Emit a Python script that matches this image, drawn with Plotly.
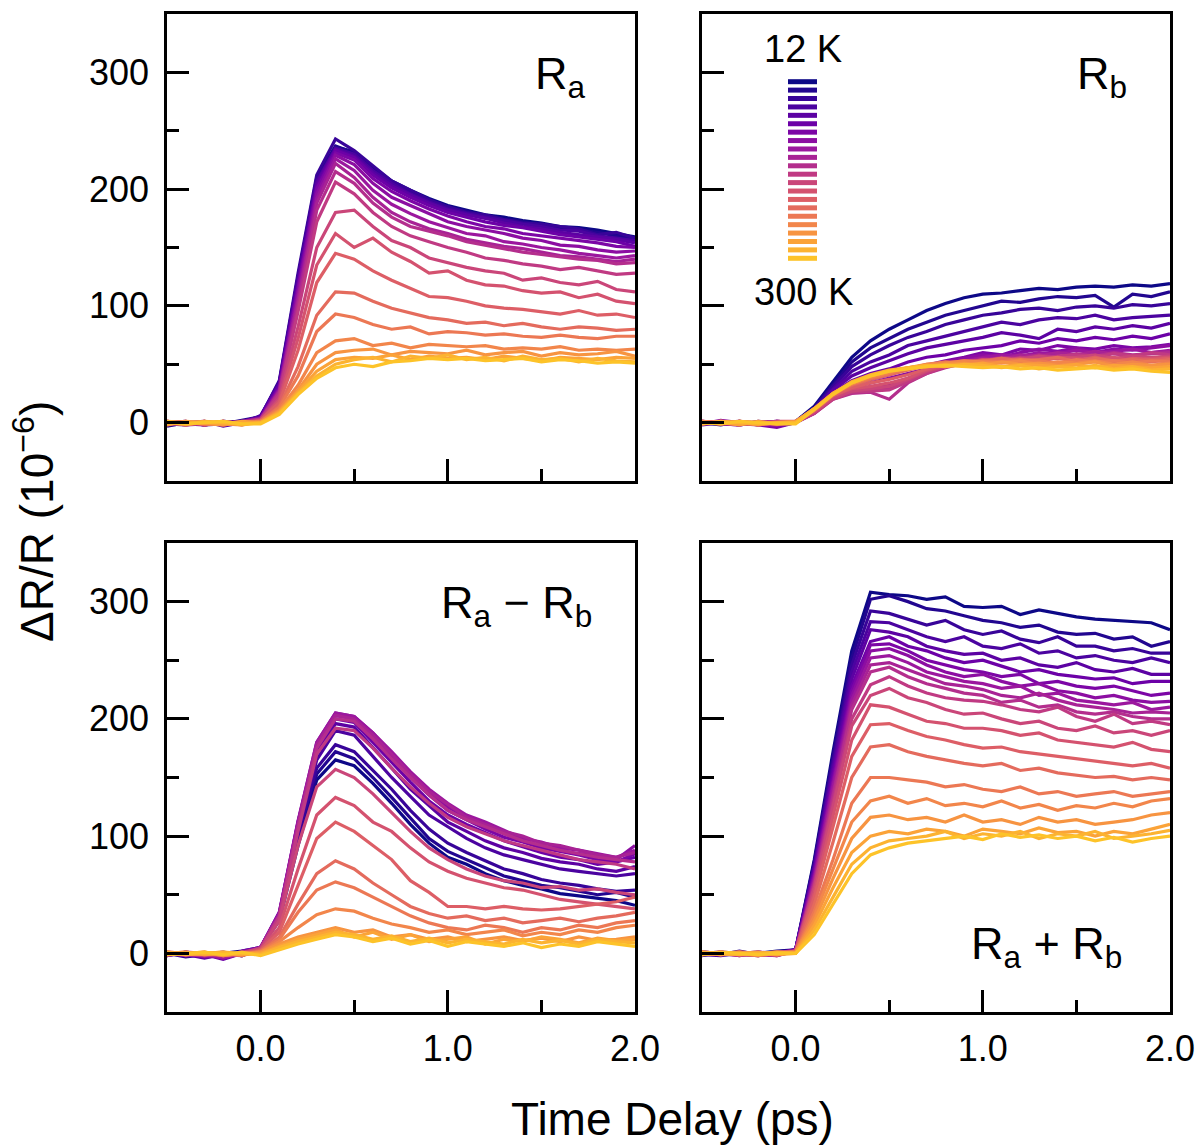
import plotly.graph_objects as go
from plotly.colors import sample_colorscale

# ---------------- data ----------------
time_ps = [-0.5, -0.4, -0.3, -0.2, -0.1, 0.0, 0.1, 0.2, 0.3, 0.4, 0.5, 0.6, 0.7,
           0.8, 0.9, 1.0, 1.1, 1.2, 1.3, 1.4, 1.5, 1.6, 1.7, 1.8, 1.9, 2.0]

temps_K = [12, 25, 40, 55, 70, 85, 100, 115, 130, 145, 160, 175, 190, 205, 220,
           235, 250, 260, 270, 280, 290, 300]

ra_dRR = [
    [-3, 0, -2, 1, 0, 4, 33, 122, 208, 236, 232, 219, 207, 199, 192, 186, 182, 178, 176, 173, 171, 168, 167, 165, 162, 159],
    [-1, -2, 0, -1, 2, 5, 35, 125, 210, 237, 231, 218, 206, 198, 190, 184, 181, 177, 174, 172, 169, 167, 165, 163, 160, 157],
    [0, 1, -2, -1, 1, 5, 36, 128, 212, 243, 233, 220, 207, 199, 191, 185, 180, 178, 174, 171, 170, 168, 166, 161, 163, 158],
    [-2, -1, 1, -3, 0, 6, 34, 124, 207, 235, 230, 216, 205, 196, 189, 183, 179, 176, 173, 170, 168, 165, 164, 160, 158, 156],
    [1, -1, -2, 0, 1, 5, 33, 120, 205, 234, 228, 214, 203, 195, 188, 182, 178, 175, 171, 168, 166, 163, 161, 159, 157, 154],
    [-1, 0, 1, -2, -1, 4, 32, 118, 202, 233, 227, 212, 201, 193, 186, 180, 176, 172, 169, 167, 164, 161, 159, 157, 155, 151],
    [0, -2, -1, 1, 0, 4, 30, 115, 200, 231, 225, 209, 198, 190, 183, 177, 172, 168, 166, 162, 160, 158, 156, 154, 151, 150],
    [-2, 0, -1, -1, 1, 4, 29, 112, 196, 229, 221, 205, 193, 186, 179, 172, 168, 165, 162, 158, 156, 152, 151, 148, 146, 147],
    [1, -1, 0, -2, 0, 3, 28, 108, 192, 226, 216, 199, 187, 179, 172, 167, 162, 160, 155, 153, 150, 148, 145, 143, 141, 143],
    [-1, 0, -2, 1, -1, 3, 27, 105, 188, 222, 210, 193, 180, 172, 166, 162, 157, 154, 151, 149, 146, 143, 142, 140, 138, 140],
    [1, -1, 0, -2, 1, 3, 26, 100, 182, 215, 205, 188, 176, 168, 164, 160, 155, 152, 149, 146, 144, 142, 140, 139, 136, 137],
    [-1, 1, -2, 0, -1, 3, 24, 95, 172, 206, 196, 180, 168, 160, 155, 150, 146, 141, 139, 136, 134, 131, 133, 130, 127, 128],
    [0, -2, 1, -1, 0, 2, 21, 82, 150, 180, 182, 168, 156, 150, 141, 137, 133, 130, 128, 122, 124, 120, 118, 121, 114, 112],
    [-1, 0, -1, 1, -2, 2, 19, 72, 135, 162, 150, 158, 146, 138, 128, 130, 122, 118, 117, 113, 111, 112, 107, 110, 104, 102],
    [0, 1, -2, 0, -1, 2, 17, 62, 120, 145, 140, 130, 122, 115, 108, 107, 104, 100, 98, 97, 95, 93, 96, 92, 93, 90],
    [1, -1, 0, -2, 0, 1, 14, 48, 92, 112, 111, 104, 98, 94, 90, 88, 85, 86, 83, 85, 82, 80, 82, 81, 79, 80],
    [-1, 0, 1, -1, -2, 1, 13, 40, 78, 93, 90, 84, 80, 82, 76, 78, 77, 75, 76, 74, 73, 75, 73, 72, 74, 74],
    [0, -2, 0, 1, -1, 1, 11, 32, 60, 70, 72, 66, 68, 64, 67, 66, 65, 66, 63, 64, 63, 65, 62, 63, 62, 63],
    [1, 0, -1, -2, 0, 0, 10, 28, 50, 60, 62, 63, 58, 61, 60, 59, 62, 58, 60, 61, 57, 60, 58, 59, 61, 57],
    [-2, 1, 0, -1, 1, 0, 9, 26, 44, 54, 56, 55, 58, 54, 57, 55, 56, 54, 57, 55, 53, 56, 55, 54, 56, 55],
    [0, -1, 1, 0, -2, 0, 8, 25, 40, 50, 54, 56, 52, 57, 55, 58, 54, 56, 53, 57, 54, 55, 52, 55, 53, 52],
    [1, -1, 0, 1, -1, -1, 7, 24, 38, 47, 50, 48, 52, 53, 55, 54, 55, 53, 54, 55, 52, 54, 53, 51, 52, 51],
]

rb_dRR = [
    [0, -2, 1, -1, 0, 1, 14, 35, 56, 70, 80, 88, 96, 102, 107, 110, 111, 113, 115, 114, 116, 117, 116, 118, 117, 119],
    [-1, 0, -2, 1, 0, 1, 13, 33, 52, 64, 72, 80, 86, 92, 96, 100, 104, 103, 106, 108, 107, 109, 99, 110, 108, 112],
    [1, -1, 0, -2, 1, 0, 12, 31, 48, 58, 66, 73, 78, 84, 88, 92, 94, 97, 98, 96, 99, 100, 98, 101, 100, 102],
    [0, 1, -1, 0, -3, 0, 12, 29, 44, 52, 58, 66, 70, 74, 78, 82, 86, 84, 88, 90, 89, 92, 88, 90, 91, 92],
    [-2, 0, 1, -1, 0, 0, 11, 28, 40, 47, 53, 59, 64, 67, 70, 73, 77, 75, 72, 80, 78, 82, 80, 83, 81, 85],
    [1, -1, -2, 0, 1, 0, 10, 26, 36, 42, 46, 52, 56, 58, 62, 64, 66, 70, 68, 72, 70, 73, 71, 74, 72, 76],
    [0, -1, 1, -2, -4, 0, 10, 24, 33, 37, 41, 46, 49, 53, 56, 60, 58, 63, 62, 66, 64, 63, 66, 64, 65, 67],
    [-1, 2, 0, -1, 0, 1, 9, 23, 30, 34, 38, 42, 46, 52, 55, 58, 56, 60, 63, 61, 64, 60, 63, 62, 64, 66],
    [0, -1, -2, 0, 1, 0, 9, 22, 28, 30, 33, 38, 44, 50, 53, 56, 58, 57, 60, 59, 62, 60, 61, 63, 60, 62],
    [1, 0, -1, -2, 0, 0, 8, 21, 27, 28, 30, 36, 43, 48, 52, 55, 54, 58, 57, 60, 58, 61, 59, 57, 60, 61],
    [-1, 1, 0, -1, -2, 0, 8, 20, 25, 26, 20, 34, 42, 47, 51, 53, 56, 55, 58, 56, 59, 57, 60, 58, 59, 60],
    [0, -1, 1, 0, -1, 1, 8, 20, 26, 27, 28, 35, 42, 48, 50, 54, 52, 56, 55, 57, 58, 56, 59, 57, 60, 58],
    [1, 0, -2, 1, 0, 1, 9, 21, 27, 29, 31, 37, 44, 48, 52, 53, 55, 54, 57, 55, 56, 58, 55, 57, 56, 57],
    [-1, 1, 0, -1, 1, 1, 10, 23, 29, 31, 34, 38, 45, 49, 51, 54, 53, 55, 52, 56, 55, 54, 56, 53, 55, 56],
    [0, -1, 1, -2, 0, 1, 10, 23, 30, 34, 37, 41, 46, 50, 52, 53, 55, 52, 54, 55, 53, 56, 52, 55, 54, 55],
    [1, 0, -1, 0, -1, 1, 11, 24, 32, 37, 41, 45, 49, 51, 53, 52, 55, 53, 54, 56, 52, 55, 53, 54, 52, 54],
    [0, 1, -1, -1, 0, 1, 11, 24, 33, 38, 42, 46, 50, 52, 51, 53, 52, 54, 53, 51, 54, 52, 53, 51, 53, 52],
    [-1, 0, 1, 0, -1, 1, 12, 25, 33, 39, 43, 47, 50, 51, 53, 52, 51, 53, 50, 52, 51, 53, 50, 52, 49, 51],
    [1, -1, 0, -2, 0, 1, 12, 25, 34, 40, 44, 47, 49, 50, 51, 49, 52, 50, 51, 49, 50, 52, 48, 50, 49, 50],
    [0, 0, -2, 1, -1, 0, 12, 25, 34, 40, 44, 47, 48, 50, 49, 51, 48, 50, 49, 48, 50, 47, 49, 48, 47, 48],
    [-1, 1, 0, -1, 0, 0, 12, 25, 35, 41, 45, 47, 49, 48, 50, 49, 47, 49, 46, 48, 47, 49, 46, 48, 45, 46],
    [0, -1, 1, 0, -1, -1, 11, 24, 34, 40, 44, 46, 48, 49, 48, 47, 48, 46, 47, 45, 46, 47, 45, 46, 44, 43],
]

ra_minus_rb_dRR = [
    [-2, 1, -3, 0, 2, 5, 28, 92, 148, 165, 160, 145, 128, 110, 94, 82, 76, 68, 62, 58, 55, 51, 49, 47, 45, 41],
    [0, -3, -1, 1, -2, 5, 30, 96, 153, 172, 166, 150, 133, 115, 98, 87, 80, 73, 66, 62, 58, 56, 53, 50, 52, 48],
    [-1, 0, -2, -1, 1, 5, 31, 100, 158, 178, 172, 156, 140, 122, 106, 94, 86, 79, 72, 68, 63, 60, 58, 55, 53, 54],
    [1, -2, 0, -3, 0, 5, 32, 104, 165, 190, 186, 168, 150, 134, 118, 108, 98, 90, 84, 80, 76, 72, 70, 68, 66, 68],
    [0, -1, -4, -1, -2, 5, 33, 108, 170, 196, 193, 176, 158, 140, 126, 112, 104, 96, 90, 86, 81, 78, 76, 72, 70, 74],
    [-2, 1, -1, -5, 0, 5, 34, 110, 174, 200, 197, 180, 163, 146, 130, 118, 110, 103, 96, 91, 86, 82, 80, 76, 78, 82],
    [1, -2, -1, -4, 2, 5, 35, 112, 177, 203, 200, 184, 168, 150, 135, 122, 114, 106, 99, 95, 90, 87, 84, 80, 78, 85],
    [-1, 0, -3, -2, 1, 5, 35, 113, 180, 205, 202, 188, 170, 153, 138, 125, 116, 110, 102, 96, 92, 88, 85, 84, 80, 92],
    [0, -2, -1, -4, 0, 5, 34, 112, 180, 205, 202, 188, 172, 155, 140, 128, 118, 112, 105, 98, 95, 90, 88, 85, 82, 88],
    [-2, 1, 0, -3, -1, 5, 33, 110, 178, 203, 200, 186, 170, 153, 138, 127, 116, 110, 104, 100, 94, 92, 88, 84, 82, 86],
    [0, -1, -2, 0, -1, 5, 32, 108, 175, 200, 198, 183, 166, 150, 135, 122, 114, 108, 102, 96, 92, 88, 85, 82, 80, 78],
    [1, 0, -2, -1, 0, 4, 31, 104, 170, 192, 190, 175, 158, 142, 128, 116, 108, 102, 96, 92, 88, 84, 80, 78, 76, 72],
    [0, -1, 0, -2, 1, 4, 28, 92, 142, 157, 150, 136, 120, 104, 90, 80, 72, 66, 62, 60, 56, 57, 54, 55, 52, 50],
    [1, -1, 0, -2, 0, 3, 22, 72, 118, 133, 126, 112, 104, 90, 78, 70, 64, 60, 56, 54, 50, 46, 44, 42, 40, 38],
    [0, 1, -1, 0, -2, 3, 18, 58, 98, 112, 104, 92, 80, 62, 52, 40, 40, 38, 40, 38, 37, 38, 40, 42, 44, 48],
    [0, -1, 1, -2, 0, 2, 14, 42, 68, 79, 72, 60, 50, 40, 34, 30, 32, 28, 30, 26, 28, 30, 27, 30, 32, 35],
    [1, 0, -1, 0, -2, 2, 12, 35, 54, 61, 56, 48, 40, 32, 26, 22, 20, 24, 22, 18, 22, 20, 24, 22, 26, 28],
    [0, -1, 0, 1, -1, 1, 10, 22, 33, 38, 36, 30, 25, 22, 18, 20, 16, 18, 20, 15, 18, 16, 20, 18, 22, 24],
    [-1, 0, 1, -2, 0, 1, 8, 14, 18, 22, 18, 20, 14, 16, 12, 14, 10, 12, 14, 11, 13, 10, 14, 11, 12, 14],
    [0, 1, -1, 0, -1, 0, 6, 12, 16, 20, 14, 18, 12, 16, 10, 12, 14, 8, 12, 10, 14, 12, 9, 13, 11, 12],
    [1, -1, 0, 1, 0, -1, 5, 10, 14, 18, 16, 12, 15, 10, 13, 9, 12, 10, 8, 12, 9, 11, 8, 12, 10, 9],
    [-1, 0, 1, -1, 1, -2, 3, 8, 12, 16, 14, 10, 13, 8, 11, 6, 10, 8, 6, 9, 5, 8, 6, 10, 8, 6],
]

ra_plus_rb_dRR = [
    [-2, 1, -1, 0, 2, 3, 80, 172, 258, 308, 306, 305, 302, 304, 296, 295, 296, 289, 293, 290, 287, 285, 284, 283, 282, 276],
    [0, -1, 2, -1, 0, 3, 78, 168, 252, 302, 305, 300, 294, 292, 288, 284, 282, 278, 280, 274, 272, 273, 268, 270, 262, 266],
    [1, 0, -1, -2, 1, 3, 76, 164, 246, 292, 290, 285, 280, 284, 276, 272, 275, 268, 265, 270, 262, 262, 258, 260, 256, 256],
    [-1, -2, 0, 1, -1, 3, 74, 160, 240, 283, 282, 276, 270, 266, 270, 262, 260, 264, 256, 258, 252, 254, 250, 248, 252, 248],
    [0, 1, -1, 0, -2, 3, 72, 156, 234, 276, 274, 270, 262, 258, 255, 256, 250, 252, 246, 244, 248, 242, 240, 243, 238, 238],
    [1, -1, 0, -1, 0, 3, 70, 152, 228, 266, 270, 262, 258, 252, 248, 250, 245, 240, 242, 238, 236, 234, 235, 230, 232, 232],
    [-1, 0, -2, 1, 0, 3, 68, 148, 224, 263, 264, 258, 250, 246, 242, 240, 236, 238, 230, 232, 228, 226, 228, 224, 220, 222],
    [0, -1, 1, -1, -2, 2, 66, 145, 220, 258, 260, 254, 246, 240, 236, 238, 232, 228, 230, 224, 222, 218, 220, 216, 214, 215],
    [1, 0, -1, 0, 1, 2, 64, 142, 216, 252, 254, 248, 240, 236, 232, 230, 226, 228, 220, 222, 216, 214, 212, 214, 208, 210],
    [-1, 1, 0, -2, 0, 2, 62, 138, 212, 246, 248, 242, 236, 230, 228, 225, 220, 218, 222, 216, 212, 210, 208, 205, 206, 205],
    [0, -1, 0, 1, -1, 2, 60, 135, 208, 240, 244, 236, 230, 226, 222, 220, 214, 216, 210, 212, 206, 204, 206, 202, 200, 200],
    [1, 0, -2, 0, 1, 2, 58, 130, 200, 229, 236, 228, 222, 218, 216, 215, 212, 208, 206, 210, 202, 198, 204, 196, 198, 195],
    [-1, 1, 0, -1, 0, 2, 56, 126, 194, 220, 226, 218, 214, 208, 204, 205, 200, 196, 198, 192, 190, 194, 188, 190, 186, 190],
    [0, -1, 1, 0, -2, 2, 52, 118, 182, 212, 210, 204, 198, 196, 192, 192, 190, 186, 188, 182, 180, 178, 176, 180, 174, 172],
    [1, 0, -1, -2, 0, 2, 48, 108, 168, 195, 196, 190, 185, 182, 178, 175, 176, 172, 170, 168, 166, 164, 162, 160, 162, 158],
    [-1, 0, 1, 0, -1, 1, 42, 95, 150, 176, 178, 172, 168, 165, 162, 160, 162, 156, 158, 154, 152, 150, 151, 148, 150, 148],
    [0, 1, -1, 0, 1, 1, 36, 80, 128, 150, 150, 148, 146, 142, 144, 140, 138, 142, 136, 138, 134, 136, 138, 134, 136, 138],
    [1, -1, 0, -2, 0, 1, 32, 72, 112, 130, 134, 128, 132, 126, 128, 125, 130, 124, 127, 122, 126, 124, 128, 125, 130, 132],
    [-1, 0, 1, -1, 0, 1, 28, 64, 98, 116, 118, 114, 116, 112, 118, 112, 114, 110, 116, 112, 114, 110, 112, 114, 118, 120],
    [0, -1, 0, 1, -1, 0, 24, 56, 86, 100, 104, 102, 106, 104, 100, 106, 104, 102, 107, 103, 104, 100, 104, 102, 106, 110],
    [1, 0, -1, 0, 1, 0, 20, 48, 76, 90, 96, 98, 100, 104, 98, 102, 100, 104, 98, 102, 100, 104, 98, 100, 102, 105],
    [-1, 1, 0, -1, 0, 0, 16, 42, 68, 84, 90, 94, 96, 98, 100, 97, 102, 99, 101, 98, 100, 96, 99, 95, 98, 100],
]

x_tick_vals = [0, 1, 2]
x_tick_text = ["0.0", "1.0", "2.0"]
y_tick_vals = [0, 100, 200, 300]

# ---------------- style ----------------
W, H = 1202, 1146
FONT = "Arial, Liberation Sans, Helvetica, sans-serif"
n = len(temps_K)
colors = sample_colorscale("Plasma", [0.87 * i / (n - 1) for i in range(n)])

# panel pixel boxes (left, right, top, bottom)
boxes = {
    (1, 1): (167, 635, 14, 481),
    (1, 2): (702, 1170, 14, 481),
    (2, 1): (167, 635, 543, 1012),
    (2, 2): (702, 1170, 543, 1012),
}

fig = go.Figure()
panels = [((1, 1), ra_dRR, ""), ((1, 2), rb_dRR, "2"),
          ((2, 1), ra_minus_rb_dRR, "3"), ((2, 2), ra_plus_rb_dRR, "4")]

for (rc, data, ax) in panels:
    for i, ys in enumerate(data):
        fig.add_trace(go.Scatter(
            x=time_ps, y=ys, mode="lines",
            line=dict(color=colors[i], width=3.2),
            xaxis="x" + ax, yaxis="y" + ax, showlegend=False,
            name=f"{temps_K[i]} K"))

    l, r, t, b = boxes[rc]
    row, col = rc
    xd = [l / W, r / W]
    yd = [1 - b / H, 1 - t / H]
    xkey = "xaxis" + ax
    ykey = "yaxis" + ax
    fig.layout[xkey] = dict(
        domain=xd, anchor="y" + ax, range=[-0.5, 2.0], automargin=False,
        showline=True, linecolor="black", linewidth=2.6, mirror=True,
        ticks="inside", ticklen=22, tickwidth=2.6, tickcolor="black",
        tickmode="array", tickvals=x_tick_vals, ticktext=x_tick_text,
        showticklabels=(row == 2), ticklabelstandoff=3,
        minor=dict(tickmode="array", tickvals=[0.5, 1.5], ticks="inside",
                   ticklen=12, tickwidth=2.6, tickcolor="black"),
        showgrid=False, zeroline=False,
        tickfont=dict(family=FONT, size=36, color="black"),
    )
    fig.layout[ykey] = dict(
        domain=yd, anchor="x" + ax, range=[-50, 350], automargin=False,
        showline=True, linecolor="black", linewidth=2.6, mirror=True,
        ticks="inside", ticklen=22, tickwidth=2.6, tickcolor="black",
        tickmode="array", tickvals=y_tick_vals,
        showticklabels=(col == 1), ticklabelstandoff=8,
        minor=dict(tickmode="array", tickvals=[50, 150, 250], ticks="inside",
                   ticklen=12, tickwidth=2.6, tickcolor="black"),
        showgrid=False, zeroline=False,
        tickfont=dict(family=FONT, size=36, color="black"),
    )

def px(x, y, text, size, xanchor="center", yanchor="middle", angle=0):
    fig.add_annotation(x=x / W, y=1 - y / H, xref="paper", yref="paper",
                       text=text, showarrow=False, xanchor=xanchor,
                       yanchor=yanchor, textangle=angle,
                       font=dict(family=FONT, size=size, color="black"))

# panel labels
px(588, 76, "R<sub>a</sub>", 45, xanchor="right")
px(1129, 76, "R<sub>b</sub>", 45, xanchor="right")
px(594, 606, "R<sub>a</sub> − R<sub>b</sub>", 45, xanchor="right")
px(1124, 946, "R<sub>a</sub> + R<sub>b</sub>", 45, xanchor="right")

# axis titles
px(673, 1119, "Time Delay (ps)", 46)
px(34, 522, "ΔR/R (10<sup>−6</sup>)", 46, angle=-90)

# temperature key
px(803, 49, "12 K", 38)
px(803, 292, "300 K", 38)
for i in range(n):
    yy = 81.7 + i * (258.3 - 81.7) / (n - 1)
    fig.add_shape(type="line", xref="paper", yref="paper",
                  x0=788 / W, x1=817 / W, y0=1 - yy / H, y1=1 - yy / H,
                  line=dict(color=colors[i], width=5))

fig.update_layout(width=W, height=H, margin=dict(l=0, r=0, t=0, b=0, pad=0),
                  autosize=False,
                  plot_bgcolor="white", paper_bgcolor="white",
                  showlegend=False)

fig.write_html("out.html", config={"responsive": False})
